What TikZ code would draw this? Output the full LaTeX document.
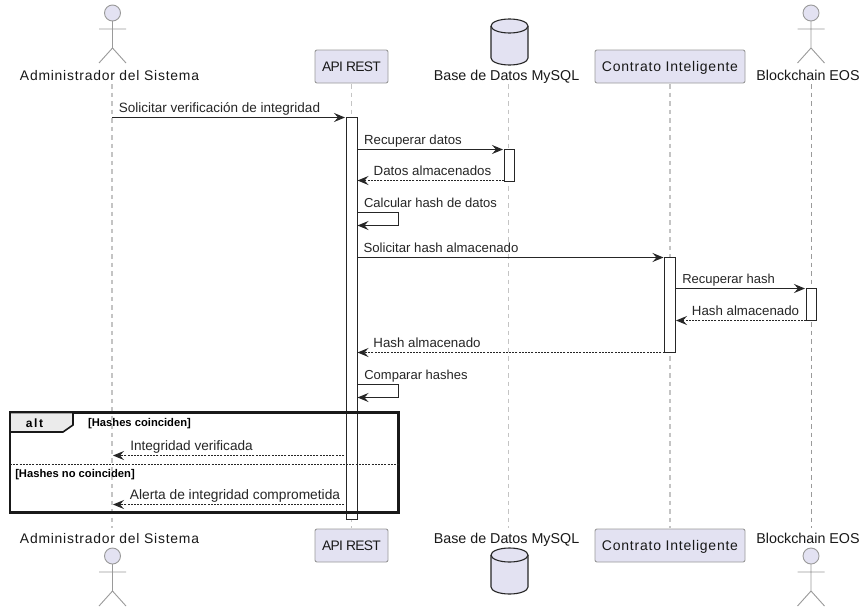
\documentclass[tikz,border=0pt]{standalone}
\usepackage{fontspec}
\setmainfont{Liberation Sans}
\newfontfamily\spaced[LetterSpace=5.5]{Liberation Sans}
\newfontfamily\tight[LetterSpace=-5]{Liberation Sans}
\newfontfamily\wide[LetterSpace=14]{Liberation Sans}
\usetikzlibrary{arrows.meta}
\definecolor{fillc}{HTML}{E3E2F2}
\definecolor{edgec}{HTML}{9A9A9A}
\definecolor{ink}{HTML}{262626}
\definecolor{lifec}{HTML}{C4C4C4}
\tikzset{
  x=1pt,y=-1pt,
  every node/.style={inner sep=0pt,outer sep=0pt},
  lbl/.style={font=\fontsize{#1}{15}\selectfont,text=ink,anchor=base},
  lbl/.default=13.5,
  actlbl/.style={font=\fontsize{14}{16}\spaced\selectfont,text=black!90,anchor=base},
  admlbl/.style={font=\fontsize{13.9}{16}\spaced\selectfont,text=black!90,anchor=base},
  dblbl/.style={font=\fontsize{14.3}{16}\selectfont,text=black!90,anchor=base},
  apilbl/.style={font=\fontsize{13.8}{16}\tight\selectfont,text=black!90,anchor=base},
  guard/.style={font=\fontsize{11.2}{13}\bfseries\selectfont,text=black,anchor=base},
  lifeline/.style={draw=lifec,line width=1.3pt,dash pattern=on 4.5pt off 4pt},
  thinlife/.style={draw=edgec,line width=.8pt,dash pattern=on 4.5pt off 4pt},
  partbox/.style={draw=edgec,fill=fillc,line width=.9pt,rounded corners=2pt,minimum height=33pt},
  apibox/.style={partbox,minimum width=73pt},
  conbox/.style={partbox,minimum width=150pt},
  stick/.style={draw=edgec,line width=.9pt},
  dbshape/.style={draw=black!85,fill=fillc,line width=1.1pt},
  activation/.style={draw=black!85,fill=white,line width=1pt},
  msg/.style={draw=ink,line width=1pt,-{Stealth[length=11pt,width=9pt,inset=4pt]}},
  reply/.style={msg,dash pattern=on 2pt off 1.2pt},
  frameb/.style={draw=black!90,line width=2.2pt},
}
\newcommand{\stickman}[2]{%
  \draw[stick,fill=fillc] (#1,#2) circle[radius=8];
  \draw[stick] (#1,#2+8) -- (#1,#2+35) (#1-13.5,#2+16) -- (#1+13.5,#2+16)
     (#1-13.5,#2+50) -- (#1,#2+35) -- (#1+13.5,#2+50);}
\newcommand{\dbcyl}[2]{%
  \draw[dbshape] (#1-18.5,#2+7) -- (#1-18.5,#2+39) arc[start angle=180,end angle=360,x radius=18.5,y radius=-7]
     -- (#1+18.5,#2+7);
  \draw[dbshape] (#1-18.5,#2+7) arc[start angle=180,end angle=-180,x radius=18.5,y radius=7];}
\begin{document}
\begin{tikzpicture}
\useasboundingbox (0,0) rectangle (866,613);
\fill[white] (0,0) rectangle (866,613);
% lifeline ends
\coordinate (l1a) at (112,84); \coordinate (l1b) at (112,528);
\coordinate (l2a) at (351.5,84); \coordinate (l2b) at (351.5,528);
\coordinate (l3a) at (508.5,84); \coordinate (l3b) at (508.5,528);
\coordinate (l4a) at (670,84); \coordinate (l4b) at (670,528);
\coordinate (l5a) at (811,84); \coordinate (l5b) at (811,528);
\draw[lifeline] (l1a) -- (l1b);
\draw[lifeline] (l2a) -- (l2b);
\draw[lifeline] (l3a) -- (l3b);
\draw[lifeline] (l4a) -- (l4b);
\draw[thinlife] (l5a) -- (l5b);
% participants
\node[admlbl] (admT) at (109.5,80) {Administrador del Sistema};
\node[apibox] (apiT) at (351.5,66.5) {};
\node[dblbl] (dbT) at (506.5,80) {Base de Datos MySQL};
\node[conbox] (conT) at (670,66.5) {};
\node[dblbl] (eosT) at (808,80) {Blockchain EOS};
\node[admlbl] (admB) at (109.5,543) {Administrador del Sistema};
\node[apibox] (apiB) at (351.5,545.5) {};
\node[dblbl] (dbB) at (506.5,543) {Base de Datos MySQL};
\node[conbox] (conB) at (670,545.5) {};
\node[dblbl] (eosB) at (808,543) {Blockchain EOS};
\node[apilbl] (apiTt) at (351.5,71.5) {API REST};
\node[apilbl] (apiBt) at (351.5,550.5) {API REST};
\node[actlbl] (conTt) at (670,71.5) {Contrato Inteligente};
\node[actlbl] (conBt) at (670,550.5) {Contrato Inteligente};
% actors and databases
\stickman{112.5}{13}
\stickman{811}{13}
\stickman{112.5}{556}
\stickman{811}{556}
\dbcyl{509.5}{19}
\dbcyl{509.5}{548}
% activations
\draw[activation] (346,117.5) rectangle (357,519);
\draw[activation] (504,149.5) rectangle (514.5,181);
\draw[activation] (664.5,257.5) rectangle (675.5,352.5);
\draw[activation] (806,288.5) rectangle (816,320.5);
% message endpoints
\coordinate (a1) at (112,117.5); \coordinate (b1) at (345,117.5);
\coordinate (a2) at (357,149.5); \coordinate (b2) at (503,149.5);
\coordinate (a3) at (504,180.5); \coordinate (b3) at (357.5,180.5);
\coordinate (a4) at (357,212.5); \coordinate (b4) at (357.5,225.5);
\coordinate (a5) at (357,257.5); \coordinate (b5) at (663.5,257.5);
\coordinate (a6) at (675.5,288.5); \coordinate (b6) at (805,288.5);
\coordinate (a7) at (806,320.5); \coordinate (b7) at (676,320.5);
\coordinate (a8) at (664.5,352.5); \coordinate (b8) at (357.5,352.5);
\coordinate (a9) at (357,384.5); \coordinate (b9) at (357.5,397.5);
\coordinate (a10) at (344,455.5); \coordinate (b10) at (113,455.5);
\coordinate (a11) at (344,504.5); \coordinate (b11) at (113,504.5);
\draw[msg] (a1) -- (b1);
\draw[msg] (a2) -- (b2);
\draw[reply] (a3) -- (b3);
\draw[msg] (a4) -- ++(41.5,0) -- ++(0,13) -- (b4);
\draw[msg] (a5) -- (b5);
\draw[msg] (a6) -- (b6);
\draw[reply] (a7) -- (b7);
\draw[reply] (a8) -- (b8);
\draw[msg] (a9) -- ++(41.5,0) -- ++(0,13) -- (b9);
\draw[reply] (a10) -- (b10);
\draw[reply] (a11) -- (b11);
% message labels
\node[lbl] (t1) at (219.5,112) {Solicitar verificación de integridad};
\node[lbl=13.2] (t2) at (413,144) {Recuperar datos};
\node[lbl=13.3] (t3) at (432.5,175) {Datos almacenados};
\node[lbl=13] (t4) at (430.5,207) {Calcular hash de datos};
\node[lbl=13.2] (t5) at (441,252) {Solicitar hash almacenado};
\node[lbl=13] (t6) at (728.5,283) {Recuperar hash};
\node[lbl=13.3] (t7) at (745.5,315) {Hash almacenado};
\node[lbl=13.3] (t8) at (427,347) {Hash almacenado};
\node[lbl=13] (t9) at (416,379) {Comparar hashes};
\node[lbl=13.6] (t10) at (191.5,450) {Integridad verificada};
\node[lbl=13.75] (t11) at (235,499) {Alerta de integridad comprometida};
% alt frame
\draw[frameb] (10,412.5) rectangle (398.5,512.5);
\draw[draw=black!90,fill=black!8,line width=1.6pt] (10,412.5) -- (73,412.5) -- (73,425) -- (63,432) -- (10,432) -- cycle;
\coordinate (s1) at (10,464.5); \coordinate (s2) at (398.5,464.5);
\draw[draw=black!85,line width=1pt,dash pattern=on 2pt off 1.2pt] (s1) -- (s2);
\node[font=\fontsize{12}{14}\wide\bfseries\selectfont,text=black,anchor=base] (altl) at (34.5,427) {alt};
\node[guard] (g1) at (139.5,426) {[Hashes coinciden]};
\node[guard] (g2) at (75,477) {[Hashes no coinciden]};
\end{tikzpicture}
\end{document}
